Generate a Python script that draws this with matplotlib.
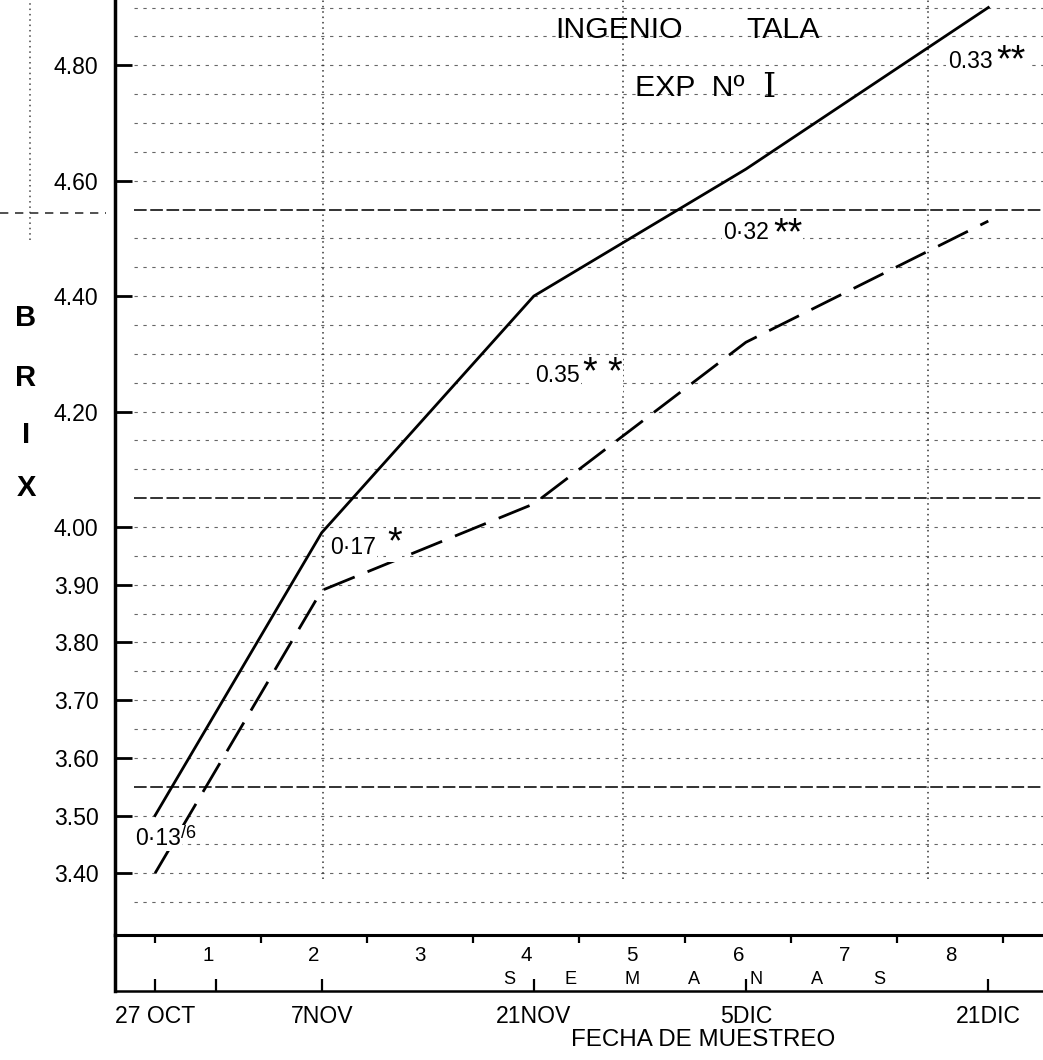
import matplotlib
matplotlib.use("Agg")
import matplotlib.pyplot as plt
from matplotlib import font_manager
import numpy as np

# dias desde el 27 de octubre para cada fecha de muestreo
fechas_dias = [0, 11, 25, 39, 55]
fechas_txt = ["27 OCT", "7NOV", "21NOV", "5DIC", "21DIC"]

# brix de los dos tratamientos
brix_a = [3.50, 3.99, 4.40, 4.62, 4.90]   # linea llena
brix_b = [3.40, 3.89, 4.04, 4.32, 4.53]   # linea de trazos

# diferencias y significancia en cada fecha
dif_txt = ["0·13", "0·17", "0.35", "0·32", "0.33"]
dif_sig = ["/6", "*", "* *", "**", "**"]
dif_pos = [(-1.32, 3.461), (11.55, 3.964), (25.08, 4.262), (37.5, 4.510), (52.33, 4.806)]
sig_off = [(0, 8), (8, 4), (2, 2), (3, 0), (3, 1.5)]

brix_ticks = [3.40, 3.50, 3.60, 3.70, 3.80, 3.90, 4.00, 4.20, 4.40, 4.60, 4.80]
brix_ticklabels = ["3.40", "3.50", "3.60", "3.70", "3.80", "3.90", "4.00", "4.20", "4.40", "4.60", "4.80"]

semanas = [str(i) for i in range(1, 9)]
semana_lim = [0, 7, 14, 21, 28, 35, 42, 49, 56]

# letra angosta si esta instalada
instaladas = {f.name for f in font_manager.fontManager.ttflist}
if "Liberation Sans Narrow" in instaladas:
    letra, k = "Liberation Sans Narrow", 1.0
else:
    letra, k = "Liberation Sans", 0.87
plt.rcParams["font.family"] = [letra, "DejaVu Sans"]

fig = plt.figure(figsize=(10.43, 10.60), dpi=100)
ax = fig.add_axes([0.1103, 0.1179, 0.8897, 0.8821])
ax.set_xlim(-2.64, 58.61)
ax.set_ylim(3.293, 4.913)

# papel cuadriculado de fondo
for y in np.arange(3.35, 4.91, 0.05):
    gruesa = round(y * 100) % 50 == 5
    ax.axhline(y, xmin=0.02, color="#222222" if gruesa else "#666666",
               lw=1.3 if gruesa else 0.8,
               dashes=(7, 2) if gruesa else (3, 5), zorder=0)
for x in [11.1, 30.9, 51.0]:
    ax.axvline(x, ymin=0.06, color="#333333", lw=1.1, dashes=(1, 2.5), zorder=0)
ax.plot([-0.0916, -0.0916], [0.743, 1.0], transform=ax.transAxes, clip_on=False,
        color="#444444", lw=1.1, dashes=(1, 2.5))
ax.plot([-0.124, -0.01], [0.7722, 0.7722], transform=ax.transAxes, clip_on=False,
        color="#333333", lw=1.2, dashes=(5, 4))

ax.plot(fechas_dias, brix_a, color="black", lw=2.0, solid_joinstyle="round")
ax.plot(fechas_dias, brix_b, color="black", lw=2.0, dashes=(12, 5))

for t, s, p, off in zip(dif_txt, dif_sig, dif_pos, sig_off):
    lab = ax.text(p[0], p[1], t, fontsize=19 * k, ha="left", va="center",
                  bbox=dict(fc="white", ec="none", pad=1))
    estrella = "*" in s
    ax.annotate(s, xy=(1, 0), xycoords=lab, xytext=off, textcoords="offset points",
                fontsize=27 if estrella else 15 * k, ha="left", va="baseline",
                family="Liberation Sans" if estrella else letra,
                bbox=dict(fc="white", ec="none", pad=0.5))

# ejes
for lado in ["top", "right"]:
    ax.spines[lado].set_visible(False)
ax.spines["left"].set_linewidth(2.5)
ax.spines["bottom"].set_linewidth(2.2)

ax.set_yticks(brix_ticks, labels=brix_ticklabels)
ax.tick_params(axis="y", direction="in", length=12, width=2, pad=12, labelsize=19 * k)

ax.set_xticks(semana_lim, labels=[""] * len(semana_lim))
ax.tick_params(axis="x", which="major", direction="out", length=6, width=1.6)
semana_mid = [(a + b) / 2 for a, b in zip(semana_lim[:-1], semana_lim[1:])]
ax.set_xticks(semana_mid, labels=semanas, minor=True)
ax.tick_params(axis="x", which="minor", length=0, pad=8, labelsize=17 * k)

# franja inferior con las fechas de muestreo
ax.plot([0, 0], [0, -0.0599], transform=ax.transAxes, clip_on=False, color="black", lw=2.5)
sec = ax.secondary_xaxis(-0.0599)
sec.set_xticks(fechas_dias, labels=fechas_txt)
sec.set_xticks([4], minor=True)
sec.tick_params(which="major", direction="in", length=9, width=1.6, pad=10, labelsize=19 * k)
sec.tick_params(which="minor", direction="in", length=9, width=1.6)
for lado in ["top", "bottom"]:
    sec.spines[lado].set_linewidth(1.8)

for i, c in enumerate("SEMANAS"):
    fig.text((509 + i * 61.7) / 1043, 0.0764, c, fontsize=15 * k, ha="center", va="center")
fig.text(0.674, 0.0189, "FECHA DE MUESTREO", fontsize=20 * k, ha="center", va="center")

for c, y in zip("BRIX", [0.700, 0.6434, 0.5896, 0.5396]):
    fig.text(0.0249, y, c, fontsize=21, fontweight="bold", family="Liberation Sans",
             ha="center", va="center")

fig.text(0.532, 0.9717, "INGENIO", fontsize=25 * k, ha="left", va="center")
fig.text(0.716, 0.9717, "TALA", fontsize=25 * k, ha="left", va="center")
fig.text(0.609, 0.917, "EXP  Nº", fontsize=25 * k, ha="left", va="center")
fig.text(0.731, 0.917, "I", fontsize=24, family="DejaVu Serif", ha="left", va="center")

fig.savefig("out.png", dpi=100)
